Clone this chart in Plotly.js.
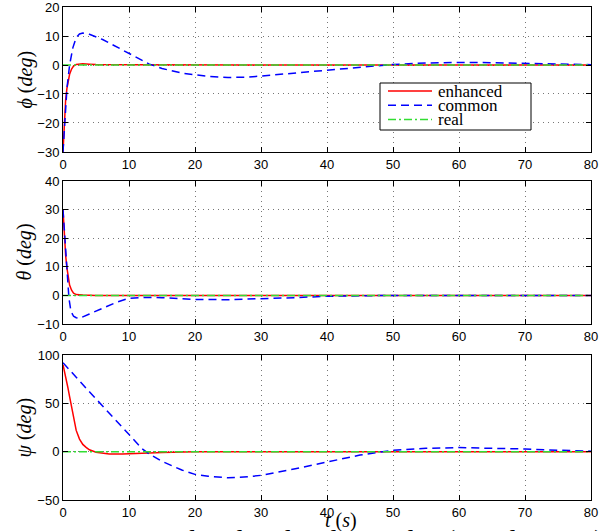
<!DOCTYPE html>
<html>
<head>
<meta charset="utf-8">
<script src="https://cdn.plot.ly/plotly-3.0.1.min.js"></script>
<style>html,body{margin:0;padding:0;background:#fff;}#chart{width:612px;height:531px;}</style>
</head>
<body>
<div id="chart"></div>
<script>
// ---- data ----
const seriesNames = ["enhanced", "common", "real"];

// phi panel
const phiEnhT = [0,0.1,0.2,0.4,0.6,0.8,1,1.3,1.6,2,2.5,3,4,5,10,20,40,60,80];
const phiEnhV = [-30,-24,-19,-12,-8,-5,-3.2,-1.4,-0.4,0.2,0.4,0.4,0.3,0.2,0.1,0,0,0,0];
const phiComT = [0,0.3,0.6,1,1.5,2,2.5,3,4,6,8,10,12,13,15,18,20,22,25,28,30,35,40,45,50,55,60,65,70,75,80];
const phiComV = [-30,-18,-8,0,6,9.5,10.7,11,10.6,8.8,6.4,3.8,1.4,0.4,-1.2,-2.8,-3.4,-3.9,-4.3,-4.2,-3.8,-2.8,-1.6,-0.6,0.2,0.7,0.9,0.8,0.6,0.3,0.1];
const phiRealT = [0,80];
const phiRealV = [0,0];

// theta panel
const thEnhT = [0,0.1,0.2,0.4,0.6,0.8,1,1.3,1.6,2,3,5,10,80];
const thEnhV = [30,25,20,14,9.5,6.2,3.6,1.8,0.8,0.3,0.1,0,0,0];
const thComT = [0,0.3,0.6,0.9,1.2,1.6,2,2.5,4,6,8,10,12,15,20,25,30,35,40,45,50,60,70,80];
const thComV = [30,19,8,-1,-5.5,-7.3,-7.8,-8,-6.5,-4.5,-2.5,-1,-0.7,-0.8,-1.4,-1.5,-1.2,-0.8,-0.3,-0.1,0,0,0,0];
const thRealT = [0,80];
const thRealV = [0,0];

// psi panel
const psEnhT = [0,0.25,0.5,0.75,1,1.5,2,2.5,3,3.5,4,5,6,7,9,12,15,20,25,80];
const psEnhV = [90,83,74,66,57,38,22,13,7.5,4.5,2,-0.6,-1.8,-2.3,-2.3,-1.5,-0.8,-0.2,0,0];
const psComT = [0,1,2,4,6,8,10,12,13,15,18,20,22,25,28,30,35,40,45,50,55,60,65,70,75,80];
const psComV = [92,85,77,62,47,32,17,3,-2,-10,-19,-23.5,-25.5,-27,-26,-24.5,-18,-10.5,-3.5,1.5,3.5,4.2,3.8,2.8,1.5,0.5];
const psRealT = [0,80];
const psRealV = [0,0];

// axes ticks
const xTicks = [0,10,20,30,40,50,60,70,80];
const phiTicks = [-30,-20,-10,0,10,20];
const thTicks = [-10,0,10,20,30,40];
const psTicks = [-50,0,50,100];

// ---- styles ----
const colors = ["#ff0000", "#0000ff", "#33dd33"];
const DASH = "8px,5px";
const DASHDOT = "8px,3px,2px,3px";
const dashes = ["solid", DASH, DASHDOT];
const lw = 1.5;

function tr(x, y, k, xa, ya) {
  return {x: x, y: y, name: seriesNames[k], type: "scatter", mode: "lines",
    line: {color: colors[k], width: lw, dash: dashes[k]},
    xaxis: xa, yaxis: ya, showlegend: false, legendgroup: seriesNames[k]};
}

const data = [
  tr(phiEnhT, phiEnhV, 0, "x", "y"),
  tr(phiComT, phiComV, 1, "x", "y"),
  tr(phiRealT, phiRealV, 2, "x", "y"),
  tr(thEnhT, thEnhV, 0, "x2", "y2"),
  tr(thComT, thComV, 1, "x2", "y2"),
  tr(thRealT, thRealV, 2, "x2", "y2"),
  tr(psEnhT, psEnhV, 0, "x3", "y3"),
  tr(psComT, psComV, 1, "x3", "y3"),
  tr(psRealT, psRealV, 2, "x3", "y3")
];

const tickFont = {family: "Liberation Sans, Arial, sans-serif", size: 13, color: "#000"};
const common = {showline: true, linecolor: "#000", linewidth: 1, mirror: "allticks",
    ticks: "inside", ticklen: 5, tickcolor: "#000",
    showgrid: true, gridcolor: "#777", griddash: "1px,4px", gridwidth: 1,
    zeroline: false, tickfont: tickFont, fixedrange: true, ticklabeloverflow: "allow"};
function xax(anchor) {
  return Object.assign({domain: [0,1], anchor: anchor, range: [0,80], tickvals: xTicks}, common);
}
function yax(anchor, dom, rng, tv) {
  return Object.assign({domain: dom, anchor: anchor, range: rng, tickvals: tv}, common);
}

const serif = "Liberation Serif, DejaVu Serif, serif";
function ylab(text, yref) {
  return {text: text, xref: "paper", yref: yref, x: 0, y: 0.5, xanchor: "center", yanchor: "middle",
    xshift: -38, textangle: -90, showarrow: false, font: {family: serif, size: 20, color: "#000"}};
}

// custom legend (paper coordinates derived from pixel layout)
const L = 63, W = 528, B = 500, H = 493;
const px = v => (v - L) / W;
const py = v => (B - v) / H;
const legRowsY = [91, 105.3, 119.6];
const shapes = [
  {type: "rect", xref: "paper", yref: "paper", x0: px(380), x1: px(531), y0: py(130), y1: py(83),
    line: {color: "#000", width: 1}, fillcolor: "#fff", layer: "above"}
];
const annotations = [
  ylab("<i>ϕ</i> (<i>deg</i>)", "y domain"),
  ylab("<i>θ</i> (<i>deg</i>)", "y2 domain"),
  ylab("<i>ψ</i> (<i>deg</i>)", "y3 domain"),
  {text: "<i>t</i> (<i>s</i>)", xref: "paper", yref: "paper", x: px(341), y: py(520),
    xanchor: "center", yanchor: "middle", showarrow: false, font: {family: serif, size: 20, color: "#000"}},
  {text: "Fig. 4: Estimated and real Euler angles (simulation 1)", xref: "paper", yref: "paper",
    x: px(606), y: py(521.5), xanchor: "right", yanchor: "top", showarrow: false,
    font: {family: serif, size: 28, color: "#000", style: "normal"}}
];
seriesNames.forEach((n, k) => {
  shapes.push({type: "line", xref: "paper", yref: "paper", x0: px(388), x1: px(432),
    y0: py(legRowsY[k]), y1: py(legRowsY[k]), line: {color: colors[k], width: lw, dash: dashes[k]}, layer: "above"});
  annotations.push({text: n, xref: "paper", yref: "paper", x: px(436), y: py(legRowsY[k]),
    xanchor: "left", yanchor: "middle", showarrow: false,
    font: {family: serif, size: 17, color: "#000"}});
});

const layout = {
  width: 612, height: 531,
  margin: {l: 63, r: 21, t: 7, b: 31, pad: 0},
  paper_bgcolor: "#fff", plot_bgcolor: "#fff",
  showlegend: false,
  xaxis: xax("y"),
  yaxis: yax("x", [0.7059, 1], [-30, 20], phiTicks),
  xaxis2: xax("y2"),
  yaxis2: yax("x2", [0.357, 0.647], [-10, 40], thTicks),
  xaxis3: xax("y3"),
  yaxis3: yax("x3", [0, 0.2941], [-50, 100], psTicks),
  shapes: shapes,
  annotations: annotations
};

Plotly.newPlot("chart", data, layout, {staticPlot: true, displayModeBar: false});
</script>
</body>
</html>
